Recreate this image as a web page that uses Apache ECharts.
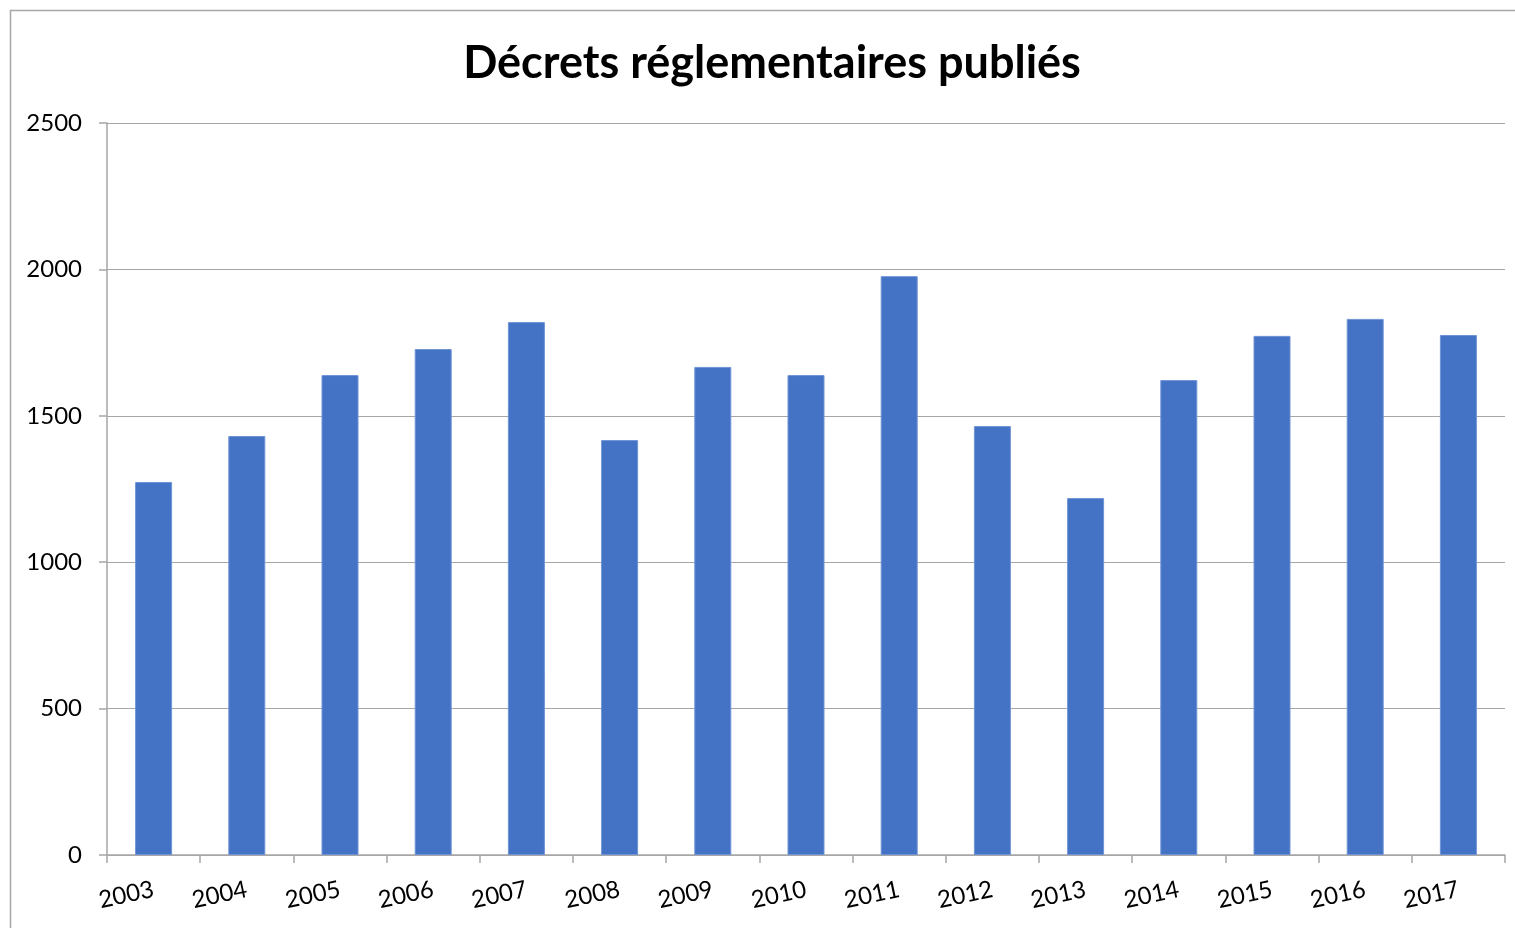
<!DOCTYPE html>
<html><head><meta charset="utf-8">
<script src="https://cdn.jsdelivr.net/npm/echarts@6/dist/echarts.min.js"></script>
<style>html,body{margin:0;padding:0;background:#fff}#c{width:1515px;height:928px}</style>
</head><body><div id="c"></div>
<script>
const categories = ['2003','2004','2005','2006','2007','2008','2009','2010','2011','2012','2013','2014','2015','2016','2017'];
const decrets = [1274,1431,1639,1728,1820,1417,1667,1639,1977,1465,1219,1622,1773,1831,1776];
const yTicks = {min:0, max:2500, interval:500};

const chart = echarts.init(document.getElementById('c'), null, {renderer:'canvas'});
chart.setOption({
  animation:false,
  backgroundColor:'#fff',
  graphic:[{type:'rect', shape:{x:10.5,y:10.5,width:1530,height:940}, style:{fill:null, stroke:'#a6a6a6', lineWidth:1.5}, silent:true}],
  title:{text:'Décrets réglementaires publiés', left:767, textAlign:'center', top:36,
    textStyle:{fontFamily:'Lato', fontWeight:'bold', fontSize:45, color:'#000'}},
  grid:{left:107, top:123, right:10, bottom:73, containLabel:false},
  xAxis:{type:'category', data:categories,
    axisLine:{lineStyle:{color:'#a6a6a6', width:1.5}},
    axisTick:{show:true, length:8, lineStyle:{color:'#a6a6a6', width:1.5}},
    axisLabel:{rotate:12, margin:34, fontFamily:'Lato', fontSize:24, color:'#000'}},
  yAxis:{type:'value', min:yTicks.min, max:yTicks.max, interval:yTicks.interval,
    axisLine:{show:true, lineStyle:{color:'#a6a6a6', width:1.5}},
    axisTick:{show:true, length:8, lineStyle:{color:'#a6a6a6', width:1.5}},
    splitLine:{lineStyle:{color:'#a6a6a6', width:1.2}},
    axisLabel:{margin:25, fontFamily:'Lato', fontSize:24, color:'#000', formatter:v=>String(v)}},
  series:[{type:'bar', data:decrets, barWidth:37,
    itemStyle:{color:'#4472c4', borderColor:'#6f94d6', borderWidth:1}}]
});
</script></body></html>
